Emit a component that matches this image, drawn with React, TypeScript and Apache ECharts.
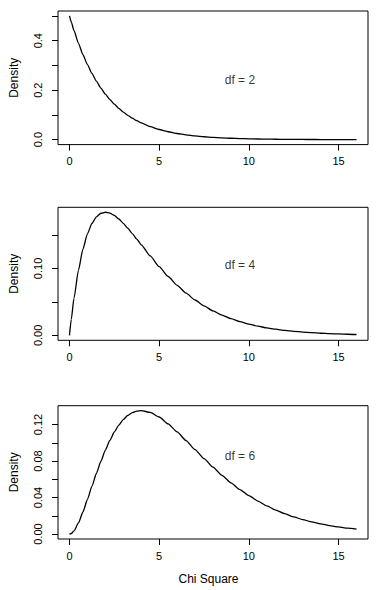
import React, { useEffect, useRef } from "react";
import * as echarts from "echarts";

const chiX = [0, 0.1, 0.25, 0.5, 0.75, 1, 1.25, 1.5, 1.75, 2, 2.25, 2.5, 2.75, 3, 3.25, 3.5, 3.75, 4, 4.5, 5, 5.5, 6, 6.5, 7, 7.5, 8, 8.5, 9, 9.5, 10, 10.5, 11, 11.5, 12, 12.5, 13, 13.5, 14, 14.5, 15, 15.5, 16];
const densDf2 = [0.5, 0.4756, 0.4412, 0.3894, 0.3436, 0.3033, 0.2676, 0.2362, 0.2084, 0.1839, 0.1623, 0.1433, 0.1264, 0.1116, 0.0984, 0.0869, 0.0767, 0.0677, 0.0527, 0.041, 0.032, 0.0249, 0.0194, 0.0151, 0.0118, 0.0092, 0.0071, 0.0056, 0.0043, 0.0034, 0.0026, 0.002, 0.0016, 0.0012, 0.001, 0.0008, 0.0006, 0.0005, 0.0004, 0.0003, 0.0002, 0.0002];
const densDf4 = [0, 0.0238, 0.0552, 0.0974, 0.1289, 0.1516, 0.1673, 0.1771, 0.1824, 0.1839, 0.1826, 0.1791, 0.1738, 0.1673, 0.16, 0.1521, 0.1438, 0.1353, 0.1186, 0.1026, 0.0879, 0.0747, 0.063, 0.0528, 0.0441, 0.0366, 0.0303, 0.025, 0.0205, 0.0168, 0.0138, 0.0112, 0.0092, 0.0074, 0.006, 0.0049, 0.004, 0.0032, 0.0026, 0.0021, 0.0017, 0.0013];
const densDf6 = [0, 0.0006, 0.0034, 0.0122, 0.0242, 0.0379, 0.0523, 0.0664, 0.0798, 0.092, 0.1027, 0.1119, 0.1195, 0.1255, 0.13, 0.133, 0.1348, 0.1353, 0.1334, 0.1283, 0.1208, 0.112, 0.1025, 0.0925, 0.0827, 0.0733, 0.0644, 0.0562, 0.0488, 0.0421, 0.0362, 0.0309, 0.0263, 0.0223, 0.0188, 0.0159, 0.0133, 0.0112, 0.0093, 0.0078, 0.0065, 0.0054];

const xTicks = [0, 5, 10, 15];
const yTicks1 = [0, 0.1, 0.2, 0.3, 0.4, 0.5];
const yLabels1 = [0, 0.2, 0.4];
const yTicks2 = [0, 0.05, 0.1, 0.15];
const yLabels2 = [0, 0.1];
const yTicks3 = [0, 0.02, 0.04, 0.06, 0.08, 0.1, 0.12];
const yLabels3 = [0, 0.04, 0.08, 0.12];

const dfLabels = ["df = 2", "df = 4", "df = 6"];
const dfLabelPos: [number, number][] = [[9.5, 0.241], [9.5, 0.105], [9.5, 0.0853]];

const FONT = "'Liberation Sans', Arial, Helvetica, sans-serif";

export default function App() {
  const ref = useRef<HTMLDivElement>(null);
  useEffect(() => {
    document.body.style.margin = "0";
    if (!ref.current) return;
    const chart = echarts.init(ref.current, null, { renderer: "svg" });
    const panels = [
      { dens: densDf2, ticks: yTicks1, labels: yLabels1, dec: 1, min: -0.02, max: 0.52, top: 11, height: 133.6 },
      { dens: densDf4, ticks: yTicks2, labels: yLabels2, dec: 2, min: -0.00736, max: 0.1913, top: 207.3, height: 133 },
      { dens: densDf6, ticks: yTicks3, labels: yLabels3, dec: 2, min: -0.00541, max: 0.1407, top: 405.7, height: 133.3 },
    ];
    const grid = panels.map((p) => ({
      left: 57.7,
      right: 15,
      top: p.top,
      height: p.height,
      show: true,
      borderColor: "#000",
      borderWidth: 1,
      backgroundColor: "transparent",
    }));
    const xAxis = panels.map((p, i) => ({
      type: "value",
      gridIndex: i,
      min: -0.64,
      max: 16.64,
      axisLine: { show: false, onZero: false },
      splitLine: { show: false },
      axisTick: { show: true, inside: false, length: 6, customValues: xTicks, lineStyle: { color: "#000" } },
      axisLabel: { show: true, margin: 11, fontSize: 11, color: "#000", fontFamily: FONT, customValues: xTicks },
    }));
    const yAxis = panels.map((p, i) => ({
      type: "value",
      gridIndex: i,
      min: p.min,
      max: p.max,
      axisLine: { show: false, onZero: false },
      splitLine: { show: false },
      axisTick: { show: true, inside: false, length: 6, customValues: p.ticks, lineStyle: { color: "#000" } },
      axisLabel: {
        show: true,
        rotate: 90,
        margin: 15,
        fontSize: 11,
        color: "#000",
        fontFamily: FONT,
        customValues: p.labels,
        formatter: (v: number) => v.toFixed(p.dec),
      },
      name: "Density",
      nameLocation: "middle",
      nameRotate: 90,
      nameGap: 38,
      nameTextStyle: { fontSize: 12, color: "#000", fontFamily: FONT },
    }));
    const lineSeries = panels.map((p, i) => ({
      type: "line",
      xAxisIndex: i,
      yAxisIndex: i,
      data: chiX.map((x, j) => [x, p.dens[j]]),
      smooth: 0.2,
      smoothMonotone: "x",
      showSymbol: false,
      symbol: "none",
      lineStyle: { color: "#000", width: 1.3 },
      silent: true,
    }));
    const textSeries = panels.map((p, i) => ({
      type: "scatter",
      xAxisIndex: i,
      yAxisIndex: i,
      symbolSize: 0,
      data: [dfLabelPos[i]],
      label: {
        show: true,
        position: "inside",
        formatter: dfLabels[i],
        fontSize: 12,
        color: "#000",
        fontFamily: FONT,
      },
      silent: true,
    }));
    chart.setOption({
      animation: false,
      backgroundColor: "#fff",
      grid,
      xAxis,
      yAxis,
      series: [...lineSeries, ...textSeries],
      graphic: [
        {
          type: "text",
          x: 208.5,
          y: 579,
          style: {
            text: "Chi Square",
            fontSize: 12,
            fontFamily: FONT,
            fill: "#000",
            textAlign: "center",
            textVerticalAlign: "middle",
          },
        },
      ],
    });
    return () => chart.dispose();
  }, []);
  return <div ref={ref} style={{ width: 383, height: 590 }} />;
}
